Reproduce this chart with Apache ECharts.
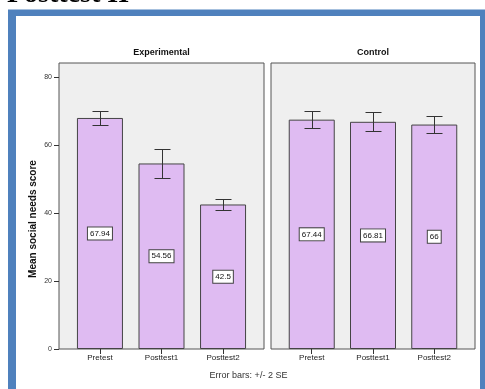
<!DOCTYPE html>
<html>
<head>
<meta charset="utf-8">
<script src="https://cdn.jsdelivr.net/npm/echarts@6/dist/echarts.min.js"></script>
<style>
  html, body { margin: 0; padding: 0; background: #ffffff; }
  #chart { width: 485px; height: 389px; }
</style>
</head>
<body>
<div id="chart"></div>
<script>
// Group means of the social needs score, with +/- 2 SE half-widths
const categories = ['Pretest', 'Posttest1', 'Posttest2'];
const groups = ['Experimental', 'Control'];
const expMeans = [67.94, 54.56, 42.5];
const ctrlMeans = [67.44, 66.81, 66];
const expErr = [2.15, 4.35, 1.75];
const ctrlErr = [2.5, 2.8, 2.45];
const yTicks = [0, 20, 40, 60, 80];

const FONT = '"Liberation Sans", Arial, sans-serif';
const BAR_COLOR = '#dfbbf2';
const PANEL_BG = '#efefef';
const PANEL_BORDER = '#555555';

const chart = echarts.init(document.getElementById('chart'), null, { renderer: 'canvas' });

function barData(means) {
  return means.map((v, i) => [i, v]);
}
function errData(means, err) {
  return means.map((v, i) => [i, v - err[i], v + err[i]]);
}

function renderErr(params, api) {
  const x = api.value(0);
  const hi = api.coord([x, api.value(2)]);
  const lo = api.coord([x, api.value(1)]);
  const cx = Math.round(hi[0]) + 0.5;
  const yHi = Math.round(hi[1]) + 0.5;
  const yLo = Math.round(lo[1]) + 0.5;
  const half = 8;
  const st = { stroke: '#333333', lineWidth: 1 };
  return {
    type: 'group',
    children: [
      { type: 'line', shape: { x1: cx, y1: yHi, x2: cx, y2: yLo }, style: st },
      { type: 'line', shape: { x1: cx - half, y1: yHi, x2: cx + half, y2: yHi }, style: st },
      { type: 'line', shape: { x1: cx - half, y1: yLo, x2: cx + half, y2: yLo }, style: st }
    ]
  };
}

const gridBox = { top: 63, height: 286 };
const grids = [
  Object.assign({ left: 59, width: 205 }, gridBox),
  Object.assign({ left: 271, width: 204 }, gridBox)
].map(g => Object.assign(g, {
  show: true, backgroundColor: PANEL_BG, borderColor: PANEL_BORDER, borderWidth: 1, containLabel: false
}));

const xAxes = [0, 1].map(i => ({
  type: 'value', gridIndex: i, min: -0.665, max: 2.665, position: 'bottom',
  splitLine: { show: false },
  axisLine: { show: false, onZero: false },
  axisTick: { show: true, length: 5, lineStyle: { color: '#333' }, customValues: [0, 1, 2] },
  axisLabel: {
    customValues: [0, 1, 2], margin: 5, fontSize: 8, fontFamily: FONT, color: '#222',
    formatter: v => categories[Math.round(v)]
  }
}));

const yAxes = [0, 1].map(i => ({
  type: 'value', gridIndex: i, min: 0, max: 84.1, position: 'left',
  splitLine: { show: false },
  axisLine: { show: false, onZero: false },
  axisTick: { show: i === 0, length: 5, lineStyle: { color: '#333' }, customValues: yTicks },
  axisLabel: {
    show: i === 0, customValues: yTicks, margin: 7, fontSize: 7, fontFamily: FONT, color: '#333'
  }
}));

function barSeries(means, idx) {
  return {
    type: 'bar', xAxisIndex: idx, yAxisIndex: idx,
    data: barData(means), barWidth: 46,
    itemStyle: { color: BAR_COLOR, borderColor: '#444444', borderWidth: 1 },
    label: {
      show: true, position: 'inside',
      formatter: p => String(p.value[1]),
      fontSize: 8, fontFamily: FONT, color: '#111',
      backgroundColor: '#ffffff', borderColor: '#444', borderWidth: 1,
      padding: [2, 2, 1, 2], lineHeight: 9
    },
    silent: true, animation: false
  };
}
function errSeries(means, err, idx) {
  return {
    type: 'custom', xAxisIndex: idx, yAxisIndex: idx,
    data: errData(means, err), renderItem: renderErr, z: 5,
    silent: true, animation: false
  };
}

const option = {
  animation: false,
  backgroundColor: 'transparent',
  grid: grids,
  xAxis: xAxes,
  yAxis: yAxes,
  series: [
    barSeries(expMeans, 0), errSeries(expMeans, expErr, 0),
    barSeries(ctrlMeans, 1), errSeries(ctrlMeans, ctrlErr, 1)
  ],
  graphic: [
    // page frame
    { type: 'rect', z: -100, shape: { x: 8, y: 9.5, width: 500, height: 400 }, style: { fill: '#4f81bd' } },
    { type: 'rect', z: -99, shape: { x: 16, y: 16, width: 464, height: 400 }, style: { fill: '#ffffff' } },
    // heading above the frame
    { type: 'text', z: 10, x: 7, y: -5.5,
      style: { text: 'Posttest II', font: 'bold 28px "Liberation Serif", "Times New Roman", serif',
               fill: '#000', align: 'left', verticalAlign: 'middle' } },
    // panel headers
    { type: 'text', z: 10, x: 161.5, y: 53,
      style: { text: groups[0], font: 'bold 9px ' + FONT, fill: '#111', align: 'center', verticalAlign: 'middle' } },
    { type: 'text', z: 10, x: 373, y: 53,
      style: { text: groups[1], font: 'bold 9px ' + FONT, fill: '#111', align: 'center', verticalAlign: 'middle' } },
    // y axis title
    { type: 'text', z: 10, x: 33.5, y: 219, rotation: Math.PI / 2,
      style: { text: 'Mean social needs score', font: 'bold 10px ' + FONT, fill: '#111', align: 'center', verticalAlign: 'middle' } },
    // footnote
    { type: 'text', z: 10, x: 248.5, y: 376,
      style: { text: 'Error bars: +/- 2 SE', font: '9px ' + FONT, fill: '#333', align: 'center', verticalAlign: 'middle' } }
  ]
};

chart.setOption(option);
</script>
</body>
</html>
